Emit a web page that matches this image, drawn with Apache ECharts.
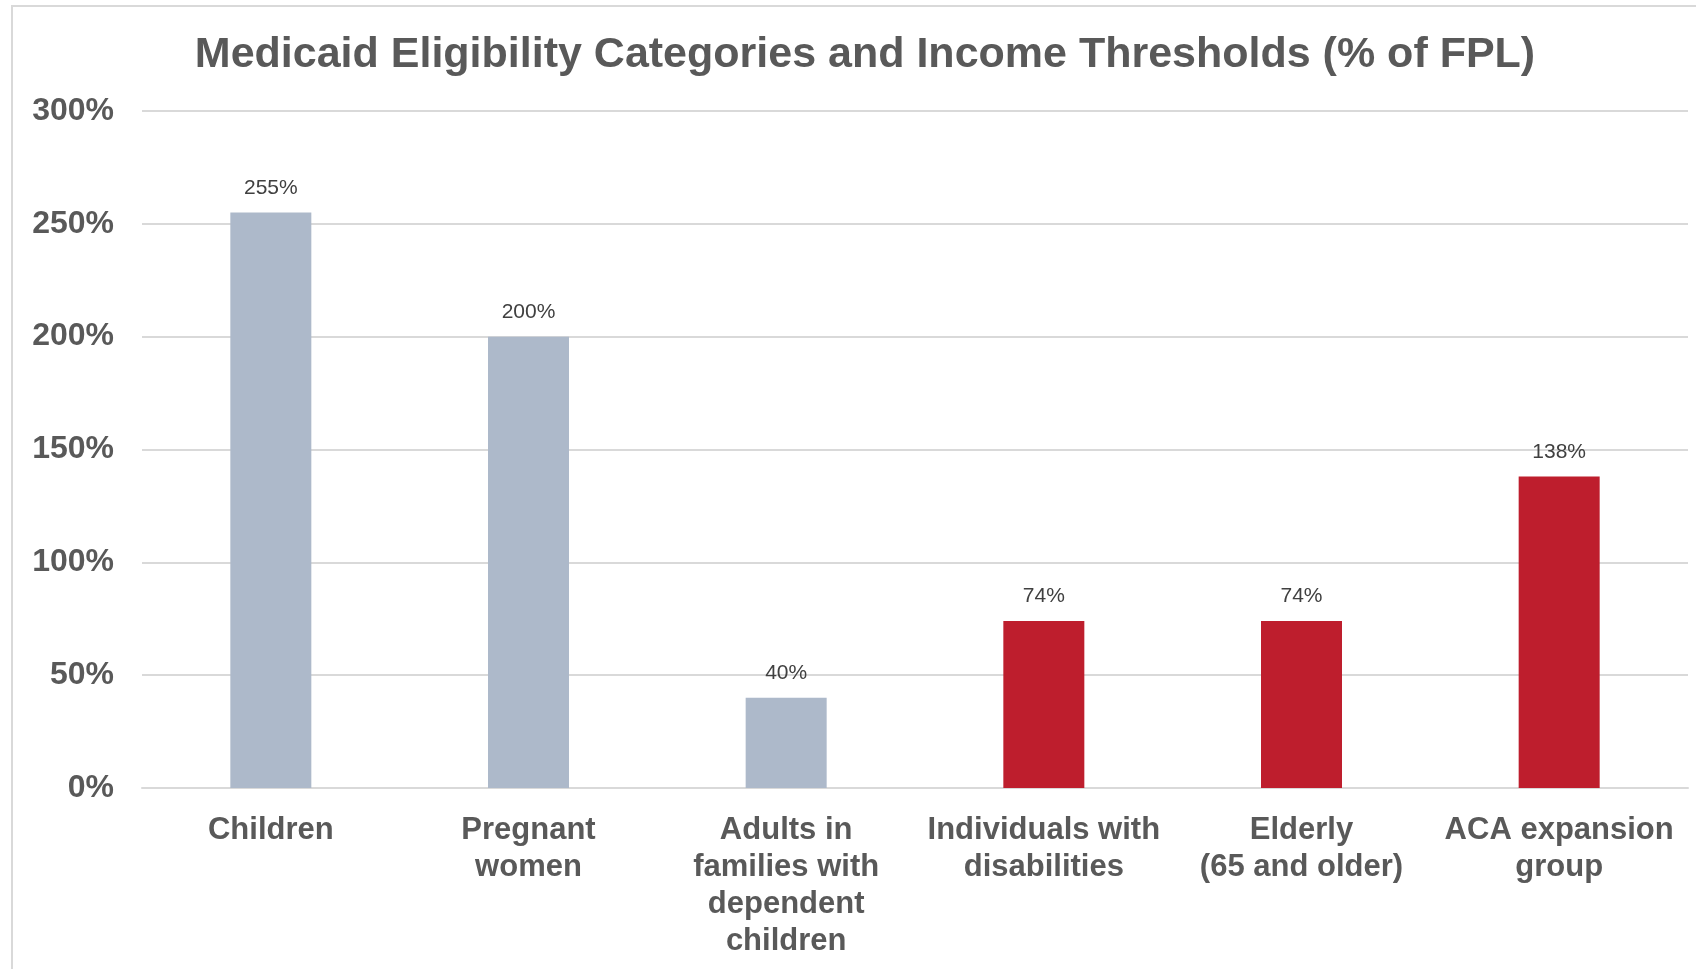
<!DOCTYPE html>
<html>
<head>
<meta charset="utf-8">
<title>Medicaid Eligibility</title>
<script src="https://cdn.jsdelivr.net/npm/echarts@6/dist/echarts.min.js"></script>
<style>
  html, body { margin: 0; padding: 0; background: #fff; }
  #main { width: 1696px; height: 969px; }
</style>
</head>
<body>
<div id="main"></div>
<script>
// data
var categories = [
    "Children",
    "Pregnant\nwomen",
    "Adults in\nfamilies with\ndependent\nchildren",
    "Individuals with\ndisabilities",
    "Elderly\n(65 and older)",
    "ACA expansion\ngroup"
];
var thresholds = [255, 200, 40, 74, 74, 138];
var barColors = ["#adb9ca", "#adb9ca", "#adb9ca", "#be1e2d", "#be1e2d", "#be1e2d"];

var textGray = "#595959";
var gridGray = "#d9d9d9";

var myChart = echarts.init(document.getElementById("main"));

var seriesData = [];
for (var i = 0; i < thresholds.length; i++) {
    seriesData.push({
        value : thresholds[i],
        itemStyle : { color : barColors[i] }
    });
}

var option = {
    animation : false,
    backgroundColor : "#fff",

    title : {
        text : "Medicaid Eligibility Categories and Income Thresholds (% of FPL)",
        left : 860,
        textAlign : "center",
        top : 29,
        textStyle : {
            fontFamily : "Liberation Sans",
            fontWeight : "bold",
            fontSize : 43,
            color : textGray
        }
    },

    // light frame round the chart area
    graphic : [{
        type : "rect",
        shape : { x : 12, y : 6, width : 1800, height : 1100 },
        style : { fill : null, stroke : gridGray, lineWidth : 2 },
        silent : true
    }],

    grid : {
        left : 142,
        right : 8,
        top : 111,
        bottom : 181
    },

    xAxis : {
        type : "category",
        data : categories,
        axisTick : { show : false },
        axisLine : { lineStyle : { color : gridGray, width : 2 } },
        axisLabel : {
            interval : 0,
            margin : 24,
            fontFamily : "Liberation Sans",
            fontWeight : "bold",
            fontSize : 31,
            lineHeight : 37,
            color : textGray
        }
    },

    yAxis : {
        type : "value",
        min : 0,
        max : 300,
        interval : 50,
        axisLine : { show : false },
        axisTick : { show : false },
        splitLine : { lineStyle : { color : gridGray, width : 2 } },
        axisLabel : {
            formatter : "{value}%",
            margin : 28,
            padding : [8, 0, 0, 0],
            fontFamily : "Liberation Sans",
            fontWeight : "bold",
            fontSize : 32,
            color : textGray
        }
    },

    series : [{
        type : "bar",
        data : seriesData,
        barWidth : 81,
        label : {
            show : true,
            position : "top",
            distance : 14,
            formatter : "{c}%",
            fontFamily : "Liberation Sans",
            fontSize : 21,
            color : "#404040"
        }
    }]
};

myChart.setOption(option);
</script>
</body>
</html>
